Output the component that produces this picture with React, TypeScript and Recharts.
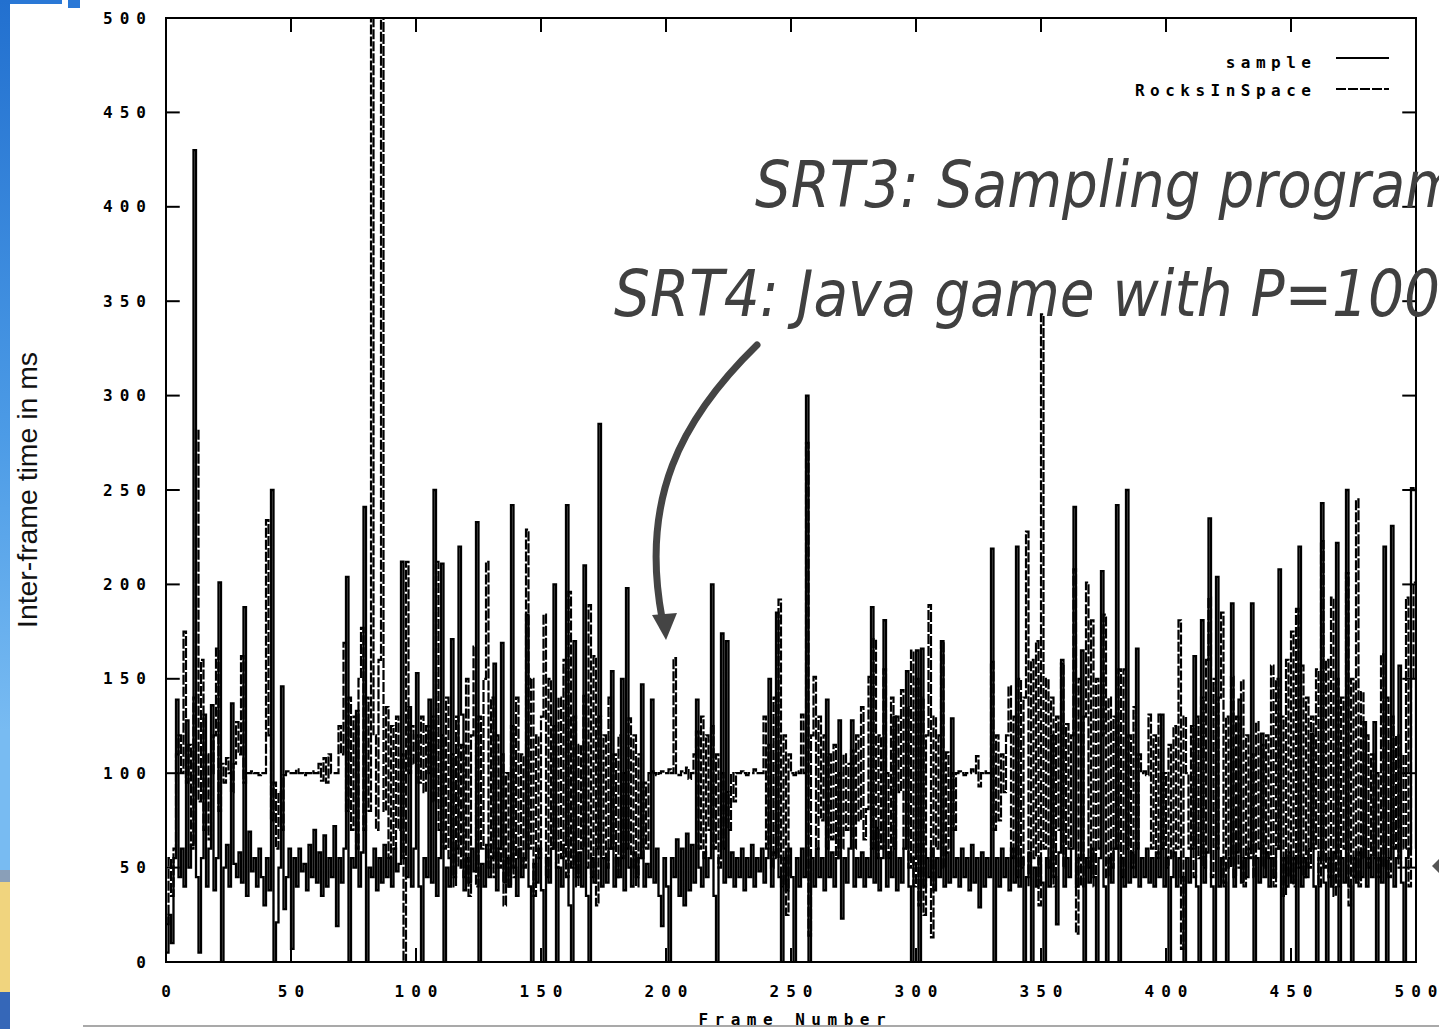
import React from 'react';
import { LineChart, Line, XAxis, YAxis, ReferenceLine, ReferenceArea } from 'recharts';

// Inter-frame time (ms) per frame, frames 0..500
const sampleValues = [
  5, 25, 10, 55, 139, 45, 60, 40, 128, 50, 62, 430, 45, 5, 55, 131, 40, 60, 136, 38, 55, 201, 0, 50, 62,
  40, 137, 52, 45, 58, 42, 188, 35, 69, 48, 55, 40, 60, 45, 30, 55, 38, 250, 0, 21, 50, 146, 28, 45, 60,
  7, 55, 40, 60, 48, 52, 38, 62, 45, 70, 42, 58, 35, 67, 40, 55, 45, 72, 19, 55, 42, 60, 204, 0, 55,
  50, 133, 40, 58, 241, 0, 50, 45, 60, 38, 55, 42, 62, 45, 55, 40, 60, 48, 52, 212, 55, 45, 135, 40, 60,
  153, 40, 0, 55, 45, 139, 42, 250, 35, 55, 211, 0, 50, 40, 171, 45, 60, 220, 131, 38, 55, 42, 60, 48, 233,
  0, 52, 40, 62, 45, 55, 158, 38, 60, 169, 42, 55, 40, 242, 50, 35, 60, 45, 55, 184, 40, 0, 52, 42, 60,
  38, 0, 55, 42, 60, 200, 0, 50, 40, 62, 242, 30, 0, 170, 45, 58, 40, 210, 35, 0, 55, 42, 60, 285, 40,
  55, 42, 60, 154, 40, 55, 45, 150, 38, 198, 50, 40, 58, 45, 55, 147, 40, 52, 45, 139, 42, 60, 35, 19, 55,
  40, 0, 55, 45, 65, 35, 60, 30, 68, 38, 62, 42, 139, 50, 40, 58, 45, 55, 200, 35, 0, 55, 174, 42, 170,
  45, 58, 40, 55, 45, 60, 38, 55, 45, 62, 40, 55, 48, 60, 42, 55, 150, 40, 58, 185, 45, 0, 55, 38, 60,
  45, 0, 55, 40, 60, 45, 300, 0, 55, 40, 60, 45, 55, 38, 139, 45, 58, 40, 55, 128, 23, 55, 42, 60, 128,
  40, 55, 45, 58, 40, 55, 45, 188, 42, 71, 38, 55, 181, 40, 58, 45, 130, 38, 55, 42, 60, 154, 40, 0, 55,
  165, 0, 166, 40, 55, 45, 60, 38, 55, 45, 170, 40, 58, 42, 129, 45, 55, 40, 60, 45, 55, 38, 62, 42, 55,
  29, 58, 40, 55, 45, 219, 0, 55, 40, 60, 45, 55, 38, 60, 42, 220, 40, 55, 0, 45, 58, 0, 50, 40, 55,
  42, 0, 55, 40, 120, 45, 20, 58, 158, 40, 55, 45, 60, 241, 40, 55, 165, 0, 55, 42, 60, 45, 0, 55, 207,
  40, 0, 55, 42, 60, 242, 0, 55, 40, 250, 42, 58, 45, 166, 40, 55, 45, 60, 42, 55, 40, 58, 45, 131, 40,
  55, 0, 45, 58, 40, 55, 45, 0, 55, 42, 60, 162, 40, 0, 181, 42, 58, 235, 40, 0, 204, 40, 55, 42, 0,
  55, 190, 40, 58, 139, 42, 55, 45, 60, 190, 0, 55, 42, 121, 45, 58, 40, 55, 45, 60, 208, 0, 55, 40, 58,
  42, 55, 0, 220, 40, 55, 45, 60, 121, 40, 0, 55, 243, 42, 0, 55, 40, 58, 222, 0, 55, 42, 250, 40, 0,
  55, 42, 58, 45, 127, 40, 55, 45, 127, 0, 55, 42, 220, 0, 55, 231, 40, 55, 157, 42, 0, 55, 60, 251, 250, 60,
];

const rocksValues = [
  20, 55, 35, 60, 110, 120, 100, 175, 95, 115, 60, 140, 282, 85, 160, 70, 110, 65, 100, 120, 166, 80, 105, 95, 108,
  100, 90, 105, 127, 110, 162, 95, 100, 100, 101, 100, 100, 99, 100, 100, 234, 120, 75, 95, 60, 90, 70, 99, 101, 100,
  100, 100, 102, 100, 100, 99, 100, 100, 101, 100, 100, 105, 96, 108, 95, 110, 100, 100, 100, 125, 110, 169, 80, 140, 70,
  130, 60, 150, 177, 70, 140, 80, 600, 120, 70, 160, 600, 80, 135, 55, 125, 60, 130, 70, 110, 0, 212, 100, 125, 105,
  120, 95, 130, 90, 125, 100, 130, 85, 212, 70, 120, 60, 140, 55, 110, 40, 130, 50, 115, 45, 150, 35, 120, 167, 40,
  130, 60, 150, 212, 50, 140, 45, 120, 50, 110, 30, 100, 40, 125, 45, 140, 55, 110, 50, 229, 60, 150, 35, 120, 55,
  130, 184, 45, 150, 60, 125, 50, 140, 55, 160, 45, 196, 50, 130, 40, 115, 60, 141, 50, 189, 45, 162, 30, 130, 55,
  120, 50, 140, 60, 110, 45, 120, 55, 100, 60, 129, 50, 120, 40, 110, 55, 95, 60, 100, 101, 100, 99, 100, 101, 100,
  100, 102, 100, 161, 100, 99, 101, 100, 103, 97, 100, 110, 122, 60, 130, 55, 120, 70, 125, 60, 110, 50, 100, 60, 90,
  70, 100, 85, 100, 100, 101, 100, 99, 100, 100, 102, 100, 100, 100, 130, 60, 115, 50, 140, 55, 192, 40, 120, 25, 110,
  100, 99, 101, 100, 131, 100, 275, 14, 120, 151, 60, 130, 75, 120, 60, 110, 65, 115, 55, 100, 60, 110, 70, 105, 112,
  60, 120, 75, 135, 65, 81, 151, 60, 171, 55, 120, 60, 155, 100, 55, 140, 60, 130, 90, 144, 60, 135, 50, 165, 40,
  150, 30, 140, 25, 120, 189, 13, 130, 60, 120, 170, 50, 111, 60, 100, 70, 100, 101, 100, 99, 100, 100, 102, 100, 109,
  93, 100, 101, 100, 100, 159, 70, 120, 75, 110, 90, 120, 146, 55, 130, 45, 150, 50, 140, 228, 40, 160, 55, 170, 30,
  343, 60, 150, 50, 140, 40, 130, 70, 160, 50, 126, 60, 120, 208, 15, 150, 40, 130, 201, 50, 181, 40, 150, 60, 120,
  184, 45, 140, 50, 130, 60, 155, 45, 155, 60, 120, 50, 135, 60, 110, 100, 101, 99, 131, 60, 120, 55, 131, 60, 100,
  50, 115, 55, 125, 60, 181, 7, 130, 100, 60, 125, 45, 130, 55, 140, 50, 160, 193, 45, 150, 60, 140, 185, 40, 130,
  50, 151, 45, 130, 50, 149, 40, 120, 55, 110, 45, 127, 60, 115, 50, 120, 55, 157, 40, 150, 60, 130, 35, 160, 45,
  175, 40, 187, 50, 157, 45, 140, 50, 130, 60, 155, 40, 223, 50, 160, 45, 193, 35, 150, 40, 140, 60, 206, 30, 150,
  45, 245, 40, 143, 55, 120, 50, 110, 55, 100, 45, 163, 50, 140, 45, 130, 60, 120, 50, 110, 60, 193, 40, 150, 201, 201,
];

const xTicks = [0, 50, 100, 150, 200, 250, 300, 350, 400, 450, 500];
const yTicks = [0, 50, 100, 150, 200, 250, 300, 350, 400, 450, 500];
const seriesNames = ['sample', 'RocksInSpace'];
const xTitle = 'Frame Number';
const yTitle = 'Inter-frame time in ms';
const note1 = 'SRT3: Sampling program';
const note2 = 'SRT4: Java game with P=100';

const data = sampleValues.map((v, i) => ({ frame: i, sample: v, rocks: rocksValues[i] }));

const monoFont: React.CSSProperties = {
  fontFamily: '"DejaVu Sans Mono", monospace',
  fontWeight: 700,
  fontSize: 16,
};

// spread glyphs like the gnuplot bitmap font, without trailing spacing
const spreadWidth = (s: string, gap: number) =>
  s.length > 1 ? s.length * 9.63 + (s.length - 1) * gap : undefined;

const SpreadText = (props: any) => {
  const { value, gap, ...rest } = props;
  const s = String(value);
  const w = spreadWidth(s, gap);
  return (
    <text
      {...rest}
      fill="#000"
      style={monoFont}
      textLength={w}
      lengthAdjust={w ? 'spacing' : undefined}
    >
      {s}
    </text>
  );
};

const YTick = (p: any) => (
  <SpreadText x={p.x} y={p.y} textAnchor="end" dominantBaseline="central" value={p.payload.value} gap={7} />
);

const XTick = (p: any) => (
  <SpreadText x={p.x} y={p.y} textAnchor="middle" dominantBaseline="central" value={p.payload.value} gap={7} />
);

export default function App() {
  return (
    <div
      style={{
        position: 'absolute',
        left: 0,
        top: 0,
        width: 1439,
        height: 1029,
        background: '#fff',
        overflow: 'hidden',
      }}
    >
      <LineChart
        width={1439}
        height={1029}
        data={data}
        margin={{ top: 18, right: 23, bottom: 27, left: 106 }}
      >
        <XAxis
          dataKey="frame"
          type="number"
          domain={[0, 500]}
          ticks={xTicks}
          interval={0}
          height={40}
          tickSize={0}
          tickMargin={29}
          axisLine={false}
          tickLine={false}
          allowDataOverflow
          tick={(p: any) => <XTick {...p} />}
        />
        <YAxis
          type="number"
          domain={[0, 500]}
          ticks={yTicks}
          interval={0}
          width={60}
          tickSize={0}
          tickMargin={20}
          axisLine={false}
          tickLine={false}
          allowDataOverflow
          tick={(p: any) => <YTick {...p} />}
        />
        <ReferenceArea x1={0} x2={500} y1={0} y2={500} fill="none" stroke="#000" strokeWidth={2} />
        {yTicks.map((t) => (
          <ReferenceLine
            key={'yl' + t}
            segment={[{ x: 0, y: t }, { x: 5.5, y: t }]}
            stroke="#000"
            strokeWidth={2}
          />
        ))}
        {yTicks.map((t) => (
          <ReferenceLine
            key={'yr' + t}
            segment={[{ x: 494.5, y: t }, { x: 500, y: t }]}
            stroke="#000"
            strokeWidth={2}
          />
        ))}
        {xTicks.map((t) => (
          <ReferenceLine
            key={'xb' + t}
            segment={[{ x: t, y: 0 }, { x: t, y: 7.4 }]}
            stroke="#000"
            strokeWidth={2}
          />
        ))}
        {xTicks.map((t) => (
          <ReferenceLine
            key={'xt' + t}
            segment={[{ x: t, y: 492.6 }, { x: t, y: 500 }]}
            stroke="#000"
            strokeWidth={2}
          />
        ))}
        <Line
          type="stepAfter"
          dataKey="sample"
          name={seriesNames[0]}
          stroke="#000"
          strokeWidth={2.3}
          dot={false}
          activeDot={false}
          isAnimationActive={false}
        />
        <Line
          type="stepAfter"
          dataKey="rocks"
          name={seriesNames[1]}
          stroke="#000"
          strokeWidth={2.2}
          strokeDasharray="10 2"
          dot={false}
          activeDot={false}
          isAnimationActive={false}
        />
      </LineChart>

      <svg
        width={1439}
        height={1029}
        style={{ position: 'absolute', left: 0, top: 0, pointerEvents: 'none' }}
      >
        <defs>
          <linearGradient id="slideBlue" x1="0" y1="0" x2="0" y2="1">
            <stop offset="0" stopColor="#2270cf" />
            <stop offset="0.5" stopColor="#4c9be6" />
            <stop offset="0.84" stopColor="#78bbf2" />
          </linearGradient>
        </defs>
        {/* slide background remnants */}
        <rect x={0} y={0} width={10} height={870} fill="url(#slideBlue)" />
        <rect x={0} y={870} width={10} height={12} fill="#8a9fb8" />
        <rect x={0} y={882} width={10} height={110} fill="#f0d47e" />
        <rect x={0} y={992} width={10} height={37} fill="#3567b8" />
        <rect x={10} y={0} width={52} height={4} fill="#2a78d6" />
        <rect x={68} y={0} width={12} height={8} fill="#2a78d6" />
        <line x1={83} y1={1026} x2={1439} y2={1026} stroke="#8c8c8c" strokeWidth={1.5} />
        <polygon points="1432,866 1439,859 1439,873" fill="#555" />

        {/* legend */}
        <SpreadText x={1311} y={62} textAnchor="end" dominantBaseline="central" value={seriesNames[0]} gap={5.5} />
        <line x1={1336} y1={58} x2={1389} y2={58} stroke="#000" strokeWidth={2} />
        <SpreadText x={1311} y={90} textAnchor="end" dominantBaseline="central" value={seriesNames[1]} gap={5.5} />
        <line
          x1={1336}
          y1={89}
          x2={1389}
          y2={89}
          stroke="#000"
          strokeWidth={2}
          strokeDasharray="10 2"
        />

        {/* axis titles */}
        <SpreadText x={792} y={1019} textAnchor="middle" dominantBaseline="central" value={xTitle} gap={6.5} />
        <text
          transform="rotate(-90)"
          x={-490}
          y={37}
          textAnchor="middle"
          fill="#111"
          textLength={276}
          lengthAdjust="spacingAndGlyphs"
          style={{ fontFamily: '"Liberation Sans", Arial, sans-serif', fontSize: 28 }}
        >
          {yTitle}
        </text>

        {/* slide annotations */}
        <text
          x={755}
          y={207}
          fill="#404040"
          textLength={705}
          lengthAdjust="spacingAndGlyphs"
          style={{ fontFamily: '"DejaVu Sans", sans-serif', fontSize: 64, fontStyle: 'italic' }}
        >
          {note1}
        </text>
        <text
          x={614}
          y={316}
          fill="#404040"
          textLength={826}
          lengthAdjust="spacingAndGlyphs"
          style={{ fontFamily: '"DejaVu Sans", sans-serif', fontSize: 64, fontStyle: 'italic' }}
        >
          {note2}
        </text>
        <path
          d="M 757 345 C 680 420, 640 500, 662 618"
          fill="none"
          stroke="#444"
          strokeWidth={7}
          strokeLinecap="round"
        />
        <polygon points="652,615 677,613 666,640" fill="#444" />
      </svg>
    </div>
  );
}
